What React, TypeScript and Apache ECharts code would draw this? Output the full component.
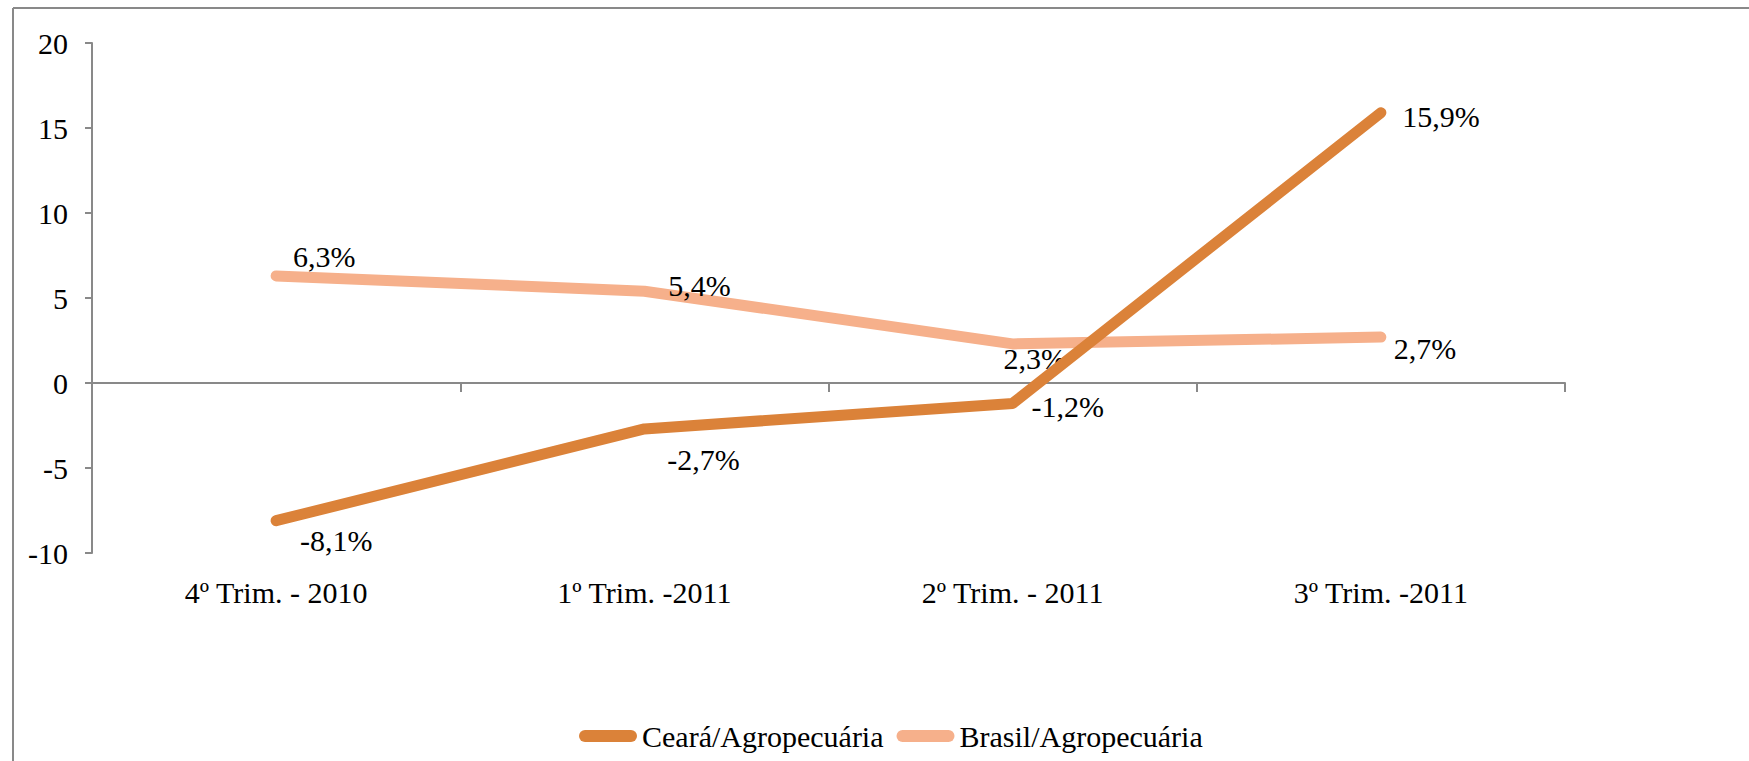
import React, { useEffect, useRef } from "react";
import * as echarts from "echarts";

const categories = ["4º Trim. - 2010", "1º Trim. -2011", "2º Trim. - 2011", "3º Trim. -2011"];
const cearaValues = [-8.1, -2.7, -1.2, 15.9];
const brasilValues = [6.3, 5.4, 2.3, 2.7];
const seriesNames = ["Ceará/Agropecuária", "Brasil/Agropecuária"];
const cearaLabelOffsets = [[60, 20], [59, 31], [55, 3], [60, 4]];
const brasilLabelOffsets = [[48, -19], [55, -6], [22, 15], [44, 11]];

const FONT = "'Liberation Serif', 'Times New Roman', serif";
const AXIS_COLOR = "#898989";
const CEARA_COLOR = "#DB8239";
const BRASIL_COLOR = "#F6B08B";

const fmt = (v: number) => v.toFixed(1).replace(".", ",") + "%";

function buildData(values: number[], offsets: number[][]) {
  return values.map((v, i) => ({
    value: v,
    label: { offset: offsets[i] },
  }));
}

export default function App() {
  const ref = useRef<HTMLDivElement>(null);
  useEffect(() => {
    if (!ref.current) return;
    const chart = echarts.init(ref.current, null, { renderer: "svg" });
    const labelStyle = {
      show: true,
      position: "inside",
      align: "center",
      verticalAlign: "middle",
      color: "#000",
      fontFamily: FONT,
      fontSize: 30,
      formatter: (p: any) => fmt(p.value),
    };
    chart.setOption({
      animation: false,
      backgroundColor: "#fff",
      textStyle: { fontFamily: FONT },
      grid: { left: 92, right: 184, top: 43, bottom: 208, containLabel: false },
      graphic: [
        { type: "line", shape: { x1: 13, y1: 8, x2: 1749, y2: 8 }, style: { stroke: AXIS_COLOR, lineWidth: 2 } },
        { type: "line", shape: { x1: 13, y1: 8, x2: 13, y2: 761 }, style: { stroke: AXIS_COLOR, lineWidth: 2 } },
      ],
      legend: {
        data: seriesNames,
        left: 574,
        top: 716,
        itemWidth: 58,
        itemHeight: 12,
        itemGap: 13,
        icon: "path://M6,0 L52,0 A6,6 0 0 1 52,12 L6,12 A6,6 0 0 1 6,0 Z",
        textStyle: { fontFamily: FONT, fontSize: 30, color: "#000" },
      },
      xAxis: [
        {
          type: "category",
          data: categories,
          position: "bottom",
          axisLine: { show: false, onZero: false },
          axisTick: { show: false },
          axisLabel: { color: "#000", fontFamily: FONT, fontSize: 30, margin: 24 },
        },
        {
          type: "category",
          data: categories,
          position: "bottom",
          axisLine: { show: true, onZero: true, onZeroAxisIndex: 0, lineStyle: { color: AXIS_COLOR, width: 2 } },
          axisTick: { show: true, inside: false, length: 9, lineStyle: { color: AXIS_COLOR, width: 2 } },
          axisLabel: { show: false },
        },
      ],
      yAxis: {
        type: "value",
        min: -10,
        max: 20,
        interval: 5,
        splitLine: { show: false },
        axisLine: { show: true, onZero: false, lineStyle: { color: AXIS_COLOR, width: 2 } },
        axisTick: { show: true, length: 7, lineStyle: { color: AXIS_COLOR, width: 2 } },
        axisLabel: { color: "#000", fontFamily: FONT, fontSize: 30, margin: 24 },
      },
      series: [
        {
          name: seriesNames[0],
          type: "line",
          xAxisIndex: 0,
          data: buildData(cearaValues, cearaLabelOffsets),
          symbol: "circle",
          symbolSize: 2,
          itemStyle: { color: CEARA_COLOR },
          lineStyle: { color: CEARA_COLOR, width: 11, cap: "round", join: "round" },
          label: labelStyle,
          z: 3,
        },
        {
          name: seriesNames[1],
          type: "line",
          xAxisIndex: 0,
          data: buildData(brasilValues, brasilLabelOffsets),
          symbol: "circle",
          symbolSize: 2,
          itemStyle: { color: BRASIL_COLOR },
          lineStyle: { color: BRASIL_COLOR, width: 11, cap: "round", join: "round" },
          label: labelStyle,
          z: 2,
        },
      ],
    });
    return () => chart.dispose();
  }, []);
  return (
    <div
      ref={ref}
      style={{ position: "absolute", left: 0, top: 0, width: 1749, height: 761 }}
    />
  );
}
